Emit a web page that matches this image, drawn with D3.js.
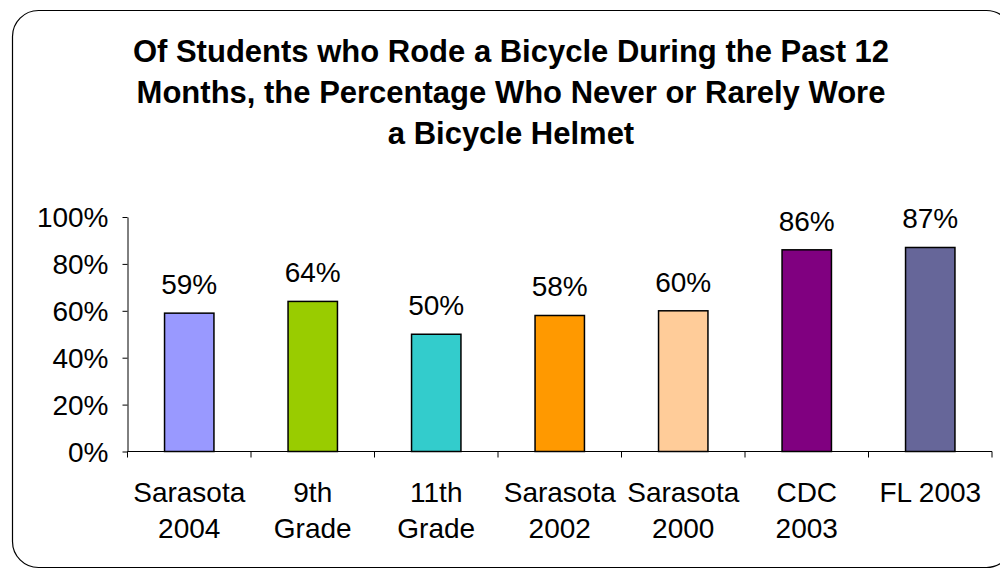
<!DOCTYPE html>
<html>
<head>
<meta charset="utf-8">
<script src="https://cdn.jsdelivr.net/npm/d3@7"></script>
<style>
  body { margin: 0; background: #fff; }
  text { font-family: "Liberation Sans", Arial, sans-serif; fill: #000; }
</style>
</head>
<body>
<script>
var categories = [["Sarasota", "2004"], ["9th", "Grade"], ["11th", "Grade"], ["Sarasota", "2002"], ["Sarasota", "2000"], ["CDC", "2003"], ["FL 2003"]];
var values = [59, 64, 50, 58, 60, 86, 87];
var colors = ["#9999FF", "#99CC00", "#33CCCC", "#FF9900", "#FFCC99", "#800080", "#666699"];
var yTicks = [0, 20, 40, 60, 80, 100];
var titleLines = ["Of Students who Rode a Bicycle During the Past 12", "Months, the Percentage Who Never or Rarely Wore", "a Bicycle Helmet"];

var width = 1000, height = 570;
var plot = { left: 127.5, right: 992, top: 217, bottom: 451.5 };

var svg = d3.select('body').append('svg')
  .attr('width', width)
  .attr('height', height);

// outer frame
svg.append('rect')
  .attr('x', 12.5).attr('y', 10.5)
  .attr('width', 1000).attr('height', 557)
  .attr('rx', 26).attr('ry', 26)
  .style('fill', '#fff')
  .style('stroke', '#000')
  .style('stroke-width', 1.2);

// title
svg.append('text')
  .attr('text-anchor', 'middle')
  .style('font-weight', 'bold')
  .style('font-size', '31px')
  .selectAll('tspan')
  .data(titleLines)
  .enter().append('tspan')
    .attr('x', 511)
    .attr('y', function(d, i) { return 62 + i * 41; })
    .text(function(d) { return d; });

var x = d3.scaleBand()
  .domain(d3.range(categories.length))
  .range([plot.left, plot.right])
  .paddingInner(0.6)
  .paddingOuter(0.3);

var y = d3.scaleLinear().domain([0, 100]).range([plot.bottom, plot.top]);

// y axis
var yAxis = svg.append('g')
  .attr('transform', 'translate(' + plot.left + ',0)')
  .call(d3.axisLeft(y).tickValues(yTicks).tickSize(5).tickSizeOuter(0).tickFormat(function(d) { return d + '%'; }));
yAxis.select('.domain').style('stroke', '#000');
yAxis.selectAll('line').style('stroke', '#000');
yAxis.selectAll('text')
  .attr('x', -19)
  .attr('dy', '0.35em')
  .style('font-size', '28px')
  .style('font-family', '"Liberation Sans", Arial, sans-serif');

// bars
svg.selectAll('.bar')
  .data(values)
  .enter().append('rect')
    .attr('class', 'bar')
    .attr('x', function(d, i) { return x(i); })
    .attr('y', function(d) { return y(d); })
    .attr('width', x.bandwidth())
    .attr('height', function(d) { return y(0) - y(d); })
    .style('fill', function(d, i) { return colors[i]; })
    .style('stroke', '#000')
    .style('stroke-width', 1.5);

// value labels
svg.selectAll('.val')
  .data(values)
  .enter().append('text')
    .attr('class', 'val')
    .attr('text-anchor', 'middle')
    .attr('x', function(d, i) { return x(i) + x.bandwidth() / 2; })
    .attr('y', function(d) { return y(d) - 19; })
    .style('font-size', '28px')
    .text(function(d) { return d + '%'; });

// x axis
var step = (plot.right - plot.left) / categories.length;
var xAxis = svg.append('g')
  .attr('transform', 'translate(0,' + plot.bottom + ')');
xAxis.append('line')
  .attr('x1', plot.left).attr('x2', plot.right)
  .style('stroke', '#000');
xAxis.selectAll('.tick')
  .data(d3.range(categories.length + 1))
  .enter().append('line')
    .attr('x1', function(d) { return plot.left + d * step; })
    .attr('x2', function(d) { return plot.left + d * step; })
    .attr('y1', 0).attr('y2', 6)
    .style('stroke', '#000');

svg.selectAll('.cat')
  .data(categories)
  .enter().append('text')
    .attr('class', 'cat')
    .attr('text-anchor', 'middle')
    .style('font-size', '28px')
    .each(function(d, i) {
      var cx = x(i) + x.bandwidth() / 2;
      d3.select(this).selectAll('tspan')
        .data(d)
        .enter().append('tspan')
          .attr('x', cx)
          .attr('y', function(t, j) { return 502 + j * 36; })
          .text(function(t) { return t; });
    });
</script>
</body>
</html>
